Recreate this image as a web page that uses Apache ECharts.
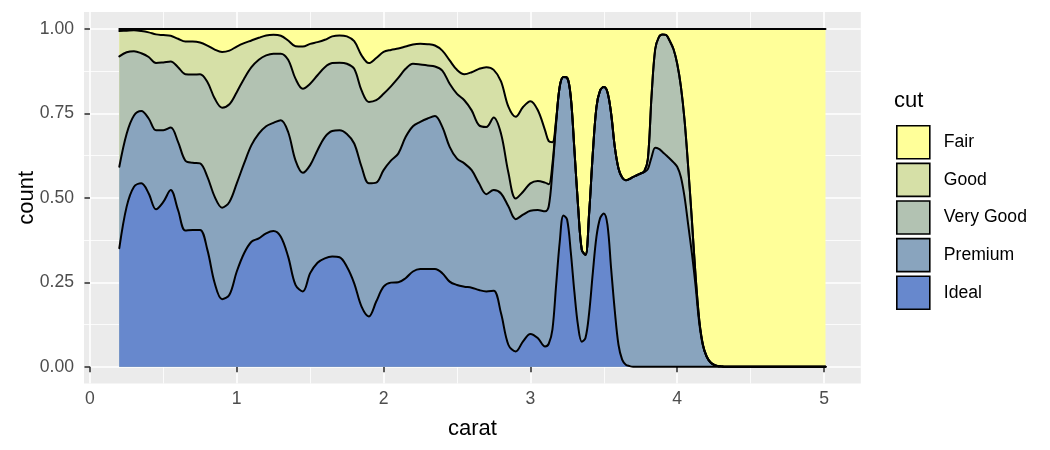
<!DOCTYPE html>
<html><head><meta charset="utf-8">
<script src="https://cdn.jsdelivr.net/npm/echarts@6/dist/echarts.min.js"></script>
<style>html,body{margin:0;padding:0;background:#fff}#c{width:1050px;height:450px}</style>
</head><body><div id="c"></div>
<script>
const cuts = ['Fair', 'Good', 'Very Good', 'Premium', 'Ideal'];
const cutColors = ['#FFFF99', '#D6E0A7', '#B2C2B2', '#89A4BE', '#6788CD'];
const xTicks = [0, 1, 2, 3, 4, 5];
const xMinor = [0.5, 1.5, 2.5, 3.5, 4.5];
const yTicks = [0, 0.25, 0.5, 0.75, 1];
const yMinor = [0.125, 0.375, 0.625, 0.875];

const carat = [
  0.2,0.25,0.3,0.35,0.4,0.45,0.5,0.55,0.6,0.65,
  0.7,0.75,0.8,0.85,0.9,0.95,1.0,1.05,1.1,1.15,
  1.2,1.25,1.3,1.35,1.4,1.45,1.5,1.55,1.6,1.65,
  1.7,1.75,1.8,1.85,1.9,1.95,2.0,2.05,2.1,2.15,
  2.2,2.25,2.3,2.35,2.4,2.45,2.5,2.55,2.6,2.65,
  2.7,2.75,2.8,2.85,2.9,2.95,3.0,3.05,3.1,
  3.125,3.15,3.175,3.2,3.225,3.25,3.275,3.3,3.325,3.35,3.375,
  3.4,3.425,3.45,3.475,3.5,3.525,3.55,3.575,3.6,3.625,3.65,
  3.675,3.7,3.725,3.75,3.775,3.8,3.825,3.85,3.875,3.9,
  3.925,3.95,3.975,4.0,4.025,4.05,4.075,4.1,4.125,4.15,
  4.175,4.2,4.225,4.25,4.275,4.3,4.325,
  4.5,5.01
];

// cumulative proportion (top edge of each cut's band, position = "fill")
const idealTop = [
  0.351,0.474,0.533,0.543,0.513,0.466,0.488,0.523,0.464,0.403,
  0.405,0.405,0.346,0.247,0.200,0.213,0.282,0.336,0.370,0.380,
  0.395,0.402,0.385,0.326,0.242,0.223,0.277,0.308,0.321,0.326,
  0.324,0.296,0.247,0.178,0.149,0.193,0.237,0.249,0.250,0.262,
  0.282,0.289,0.289,0.289,0.277,0.252,0.242,0.237,0.234,0.227,
  0.223,0.225,0.158,0.065,0.045,0.075,0.097,0.085,0.060,
  0.068,0.11,0.24,0.37,0.448,0.436,0.34,0.22,0.12,0.074,0.085,
  0.159,0.277,0.385,0.44,0.454,0.42,0.29,0.165,0.065,0.021,0.006,
  0.002,0,0,0,0,0,0,0,0,0,
  0,0,0,0,0,0,0,0,0,0,
  0,0,0,0,0,0,0,
  0,0
];
const premiumTop = [
  0.592,0.690,0.744,0.757,0.735,0.700,0.700,0.708,0.666,0.610,
  0.604,0.602,0.562,0.503,0.471,0.488,0.543,0.602,0.656,0.690,
  0.712,0.722,0.730,0.695,0.611,0.574,0.597,0.641,0.680,0.698,
  0.700,0.689,0.661,0.592,0.543,0.545,0.582,0.610,0.631,0.680,
  0.712,0.725,0.735,0.742,0.710,0.651,0.616,0.602,0.582,0.543,
  0.511,0.523,0.513,0.475,0.437,0.450,0.462,0.464,0.460,
  0.475,0.58,0.72,0.83,0.858,0.856,0.799,0.641,0.474,0.346,0.331,
  0.454,0.631,0.769,0.818,0.828,0.813,0.749,0.65,0.587,0.56,0.552,
  0.556,0.562,0.567,0.572,0.576,0.585,0.62,0.648,0.645,0.636,
  0.626,0.616,0.605,0.592,0.562,0.503,0.42,0.336,0.24,0.13,
  0.063,0.03,0.013,0.005,0.002,0.001,0,
  0,0
];
const veryGoodTop = [
  0.919,0.931,0.934,0.928,0.917,0.899,0.901,0.904,0.887,0.866,
  0.865,0.866,0.843,0.794,0.767,0.777,0.813,0.853,0.887,0.909,
  0.922,0.927,0.927,0.909,0.853,0.823,0.838,0.863,0.887,0.899,
  0.900,0.897,0.882,0.818,0.784,0.789,0.808,0.830,0.855,0.882,
  0.897,0.895,0.892,0.889,0.877,0.838,0.808,0.789,0.759,0.715,
  0.710,0.738,0.690,0.575,0.498,0.518,0.543,0.550,0.545,
  0.54,0.6,0.725,0.83,0.858,0.856,0.799,0.641,0.474,0.346,0.331,
  0.454,0.631,0.769,0.818,0.828,0.813,0.749,0.65,0.587,0.56,0.552,
  0.556,0.562,0.567,0.572,0.578,0.615,0.8,0.94,0.976,0.984,
  0.982,0.964,0.94,0.897,0.83,0.73,0.59,0.434,0.27,0.139,
  0.065,0.031,0.014,0.006,0.002,0.001,0,
  0,0
];
const goodTop = [
  0.994,0.995,0.996,0.994,0.990,0.984,0.982,0.980,0.971,0.963,
  0.963,0.960,0.951,0.939,0.932,0.936,0.948,0.958,0.966,0.974,
  0.981,0.983,0.980,0.966,0.949,0.948,0.956,0.961,0.968,0.978,
  0.981,0.978,0.964,0.922,0.899,0.914,0.932,0.938,0.942,0.948,
  0.954,0.956,0.955,0.951,0.936,0.907,0.879,0.866,0.872,0.882,
  0.887,0.879,0.845,0.770,0.740,0.769,0.786,0.760,0.700,
  0.668,0.665,0.73,0.83,0.858,0.856,0.799,0.641,0.474,0.346,0.331,
  0.454,0.631,0.769,0.818,0.828,0.813,0.749,0.65,0.587,0.56,0.552,
  0.556,0.562,0.567,0.572,0.578,0.615,0.8,0.94,0.976,0.984,
  0.982,0.964,0.94,0.897,0.83,0.73,0.59,0.434,0.27,0.139,
  0.065,0.031,0.014,0.006,0.002,0.001,0,
  0,0
];
const fairCarat = [0.2, 5.01];
const fairTop = [1, 1];

const FONT = 'Liberation Sans, Arial, sans-serif';
function pts(xs, ys) { return xs.map((x, i) => [x, ys[i]]); }

const seriesData = [
  pts(fairCarat, fairTop),
  pts(carat, goodTop),
  pts(carat, veryGoodTop),
  pts(carat, premiumTop),
  pts(carat, idealTop)
];

const X_MIN = -0.0405, X_MAX = 5.2505, Y_MIN = -0.05, Y_MAX = 1.05;

function minorAxis(min, max, minorVals) {
  return {
    type: 'value', min: min, max: max,
    axisLine: {show: false},
    axisTick: {show: false, customValues: minorVals},
    axisLabel: {show: false, customValues: minorVals},
    splitLine: {show: true, lineStyle: {color: '#FFFFFF', width: 0.8}}
  };
}

const chart = echarts.init(document.getElementById('c'), null, {renderer: 'canvas'});
chart.setOption({
  animation: false,
  title: {
    text: 'cut', left: 894, top: 90, padding: 0,
    textStyle: {fontSize: 22, fontWeight: 'normal', color: '#000', fontFamily: FONT}
  },
  legend: {
    data: cuts, orient: 'vertical', left: 896, top: 125, padding: 0,
    itemWidth: 33, itemHeight: 33, itemGap: 3, icon: 'rect',
    itemStyle: {borderColor: '#000', borderWidth: 1.6},
    textStyle: {fontSize: 17.6, color: '#000', fontFamily: FONT, padding: [0, 0, 0, 9]},
    selectedMode: false
  },
  grid: {
    left: 84, right: 189.2, top: 12.1, bottom: 66.4,
    show: true, backgroundColor: '#EBEBEB', borderWidth: 0
  },
  xAxis: [
    {
      type: 'value', min: X_MIN, max: X_MAX,
      name: 'carat', nameLocation: 'middle', nameGap: 34, nameMoveOverlap: false,
      nameTextStyle: {fontSize: 22, color: '#000', fontFamily: FONT},
      axisLine: {show: false},
      axisTick: {show: true, length: 5.5, lineStyle: {color: '#333333', width: 1.6}, customValues: xTicks},
      axisLabel: {customValues: xTicks, margin: 7, color: '#4D4D4D', fontSize: 17.6, fontFamily: FONT,
                  formatter: v => String(Math.round(v))},
      splitLine: {show: true, lineStyle: {color: '#FFFFFF', width: 1.6}}
    },
    minorAxis(X_MIN, X_MAX, xMinor)
  ],
  yAxis: [
    {
      type: 'value', min: Y_MIN, max: Y_MAX,
      name: 'count', nameLocation: 'middle', nameGap: 46, nameRotate: 90, nameMoveOverlap: false,
      nameTextStyle: {fontSize: 22, color: '#000', fontFamily: FONT},
      axisLine: {show: false},
      axisTick: {show: true, length: 5.5, lineStyle: {color: '#333333', width: 1.6}, customValues: yTicks},
      axisLabel: {customValues: yTicks, margin: 10, color: '#4D4D4D', fontSize: 17.6, fontFamily: FONT,
                  formatter: v => v.toFixed(2)},
      splitLine: {show: true, lineStyle: {color: '#FFFFFF', width: 1.6}}
    },
    minorAxis(Y_MIN, Y_MAX, yMinor)
  ],
  series: cuts.map((name, i) => ({
    name: name, type: 'line', xAxisIndex: 0, yAxisIndex: 0,
    data: seriesData[i],
    symbol: 'none', showSymbol: false, smooth: 0.35,
    lineStyle: {color: '#000', width: 2, join: 'round', cap: 'round'},
    itemStyle: {color: cutColors[i]},
    areaStyle: {color: cutColors[i], opacity: 1},
    emphasis: {disabled: true}, silent: true
  }))
});
</script>
</body></html>
